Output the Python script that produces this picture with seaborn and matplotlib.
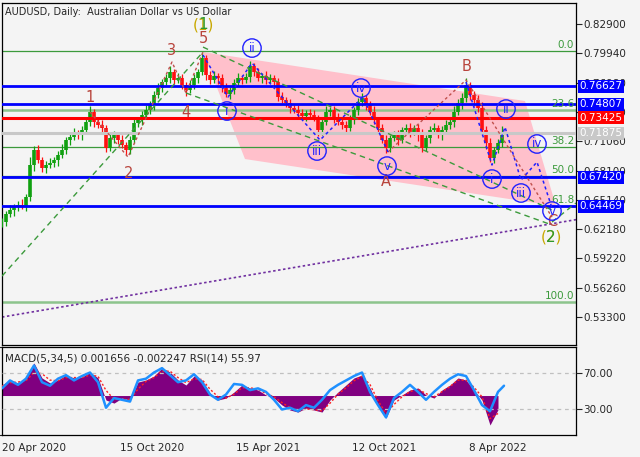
import numpy as np
import matplotlib
matplotlib.use("Agg")
import matplotlib.pyplot as plt
import matplotlib.transforms as mtransforms
from matplotlib.patches import Polygon
import seaborn as sns

sns.set_style("white")
plt.rcParams['font.family'] = ['DejaVu Sans']

# ---------------- data ----------------
TITLE = "AUDUSD, Daily:  Australian Dollar vs US Dollar"
IND_TITLE = "MACD(5,34,5) 0.001656 -0.002247 RSI(14) 55.97"

# closes every 4 daily bars (bar 0 = 20 Apr 2020)
close_prices = [
    0.6290, 0.6371, 0.6411, 0.6441, 0.6462, 0.6451, 0.6542, 0.6866, 0.7017, 0.6916,
    0.6835, 0.6866, 0.6886, 0.6916, 0.6967, 0.7017, 0.7118, 0.7148, 0.7189, 0.7169,
    0.7219, 0.7300, 0.7401, 0.7300, 0.7270, 0.7239, 0.7037, 0.7138, 0.7169, 0.7118,
    0.7068, 0.7017, 0.7118, 0.7290, 0.7320, 0.7371, 0.7421, 0.7482, 0.7573, 0.7643,
    0.7704, 0.7744, 0.7805, 0.7724, 0.7744, 0.7674, 0.7623, 0.7674, 0.7744, 0.7805,
    0.7946, 0.7775, 0.7724, 0.7764, 0.7744, 0.7643, 0.7583, 0.7623, 0.7694, 0.7744,
    0.7724, 0.7754, 0.7865, 0.7805, 0.7744, 0.7764, 0.7724, 0.7744, 0.7704, 0.7552,
    0.7522, 0.7492, 0.7441, 0.7421, 0.7391, 0.7360, 0.7391, 0.7371, 0.7340, 0.7219,
    0.7300, 0.7401, 0.7421, 0.7340, 0.7300, 0.7270, 0.7239, 0.7320, 0.7421, 0.7502,
    0.7542, 0.7472, 0.7401, 0.7320, 0.7239, 0.7118, 0.7037, 0.7138, 0.7169, 0.7118,
    0.7219, 0.7239, 0.7199, 0.7239, 0.7169, 0.7037, 0.7138, 0.7219, 0.7239, 0.7169,
    0.7219, 0.7270, 0.7300, 0.7401, 0.7492, 0.7542, 0.7674, 0.7573, 0.7522, 0.7441,
    0.7219, 0.7088, 0.6936, 0.7017, 0.7088, 0.7199]
# wick extents above / below each body (in 0.001 price units)
upper_wick = [4, 3, 5, 3, 4, 6, 3, 8, 4, 5, 3, 4, 5, 3, 4, 6, 3, 4, 5, 3,
              4, 5, 6, 3, 4, 5, 3, 6, 4, 3, 5, 3, 4, 6, 3, 4, 5, 3, 4, 5,
              3, 4, 6, 3, 5, 4, 3, 5, 4, 3, 6, 3, 4, 5, 3, 4, 5, 3, 4, 5,
              3, 4, 5, 3, 4, 3, 5, 4, 3, 4, 5, 3, 4, 3, 5, 4, 3, 4, 5, 3,
              4, 6, 3, 4, 5, 3, 4, 5, 3, 4, 5, 3, 4, 6, 3, 4, 5, 3, 4, 5,
              3, 4, 5, 3, 4, 6, 3, 4, 5, 3, 4, 5, 3, 6, 4, 5, 7, 3, 4, 5,
              6, 4, 5, 3, 4, 6]
lower_wick = [5, 4, 3, 6, 4, 3, 5, 4, 6, 3, 4, 5, 3, 4, 6, 3, 4, 5, 3, 4,
              5, 3, 4, 5, 3, 6, 4, 3, 5, 4, 3, 5, 4, 3, 4, 5, 3, 4, 6, 3,
              4, 3, 5, 4, 3, 4, 6, 3, 4, 5, 3, 5, 4, 3, 6, 4, 3, 5, 4, 3,
              4, 3, 5, 4, 3, 5, 4, 3, 6, 4, 3, 4, 5, 3, 4, 3, 5, 4, 3, 6,
              5, 3, 4, 5, 3, 4, 6, 3, 4, 5, 4, 5, 3, 4, 6, 3, 5, 4, 3, 5,
              3, 4, 5, 3, 6, 4, 3, 5, 4, 3, 5, 3, 4, 5, 3, 6, 4, 5, 6, 4,
              5, 6, 4, 5, 3, 4]
candle_step = 4

date_ticks = [0, 118, 234, 350, 467]
date_labels = ["20 Apr 2020", "15 Oct 2020", "15 Apr 2021", "12 Oct 2021", "8 Apr 2022"]

price_ticks = [0.82900, 0.79940, 0.76980, 0.74020, 0.71060, 0.68100,
               0.65140, 0.62180, 0.59220, 0.56260, 0.53300]

blue_levels = [0.76627, 0.74807, 0.67420, 0.64469]
red_levels = [0.73425]
gray_levels = [0.71875]

fib_high = 0.8017
fib_low = 0.5485
fib_ratios = [0.0, 23.6, 38.2, 50.0, 61.8, 100.0]

trend_bars = [0, 574]
trend_prices = [0.5330, 0.6314]

channel_bars = [201, 523, 554, 243]
channel_prices = [0.8007, 0.7512, 0.6451, 0.6926]

red_imp_bars = [88, 126, 170, 184, 201]
red_imp_prices = [0.7401, 0.6946, 0.7906, 0.7593, 0.8007]
red_abc_bars = [386, 464, 550]
red_abc_prices = [0.6997, 0.7724, 0.6340]
blue1_bars = [201, 226, 250, 318, 361, 386]
blue1_prices = [0.7977, 0.7552, 0.7896, 0.7118, 0.7552, 0.6997]
blue2_bars = [464, 490, 503, 519, 535, 550]
blue2_prices = [0.7704, 0.6866, 0.7249, 0.6714, 0.6896, 0.6431]
green_lines = [([0, 201], [0.5744, 0.8007]),
               ([201, 550], [0.8057, 0.6411]),
               ([184, 550], [0.7593, 0.6260]),
               ([550, 574], [0.6290, 0.6482])]

imp_labels = ["1", "2", "3", "4", "5"]
imp_bars = [88, 127, 170, 184, 201]
imp_prices = [0.7552, 0.6785, 0.8027, 0.7401, 0.8148]
abc_labels = ["A", "B", "C"]
abc_bars = [384, 465, 550]
abc_prices = [0.6704, 0.7865, 0.6300]
deg_labels = ["1", "2"]
deg_bars = [201, 549]
deg_prices = [0.8280, 0.6138]
circ_labels = ["i", "ii", "iii", "iv", "v", "i", "ii", "iii", "iv", "v"]
circ_bars = [225, 250, 315, 359, 385, 490, 504, 519, 535, 550]
circ_prices = [0.7411, 0.8047, 0.7007, 0.7643, 0.6855, 0.6724, 0.7431, 0.6583, 0.7078, 0.6401]

# indicator panel (every 8 bars)
macd_hist = [0.0082, 0.0121, 0.0098, 0.0137, 0.0254, 0.0137, 0.0098, 0.0121, 0.0160, 0.0137,
             0.0144, 0.0183, 0.0137, -0.0035, -0.0059, -0.0020, -0.0035, 0.0105, 0.0121, 0.0152,
             0.0215, 0.0183, 0.0121, 0.0082, 0.0152, 0.0121, 0.0020, -0.0035, -0.0020, 0.0027,
             0.0082, 0.0059, 0.0043, 0.0004, -0.0020, -0.0074, -0.0113, -0.0129, -0.0098, -0.0113,
             -0.0129, -0.0035, 0.0027, 0.0082, 0.0137, 0.0160, 0.0059, -0.0074, -0.0176, -0.0035,
             0.0004, 0.0043, 0.0059, 0.0004, -0.0020, 0.0043, 0.0082, 0.0137, 0.0121, 0.0043,
             -0.0035, -0.0230, -0.0110]
macd_signal = [0.0075, 0.0100, 0.0105, 0.0115, 0.0180, 0.0170, 0.0120, 0.0115, 0.0140, 0.0140,
               0.0140, 0.0160, 0.0150, 0.0040, -0.0030, -0.0030, -0.0030, 0.0050, 0.0110, 0.0140,
               0.0190, 0.0190, 0.0140, 0.0100, 0.0130, 0.0125, 0.0050, -0.0010, -0.0020, 0.0010,
               0.0060, 0.0060, 0.0050, 0.0015, -0.0010, -0.0055, -0.0095, -0.0120, -0.0105, -0.0110,
               -0.0120, -0.0060, 0.0010, 0.0060, 0.0115, 0.0150, 0.0085, -0.0040, -0.0140, -0.0070,
               -0.0010, 0.0030, 0.0050, 0.0015, -0.0010, 0.0030, 0.0070, 0.0120, 0.0120, 0.0065,
               -0.0010, -0.0180, -0.0140]
rsi_vals = [53, 62, 57, 64, 79, 60, 56, 64, 68, 62, 67, 71, 60, 31, 42, 40, 38, 62, 64, 71,
            76, 68, 60, 62, 69, 60, 46, 40, 46, 58, 57, 51, 53, 49, 40, 29, 31, 27, 34, 31,
            40, 51, 57, 62, 67, 71, 49, 34, 20, 42, 49, 57, 49, 40, 49, 57, 64, 69, 67, 51,
            34, 27, 49, 56]
ind_step = 8
rsi_last_bar = 502
macd_max = 0.037843
macd_min = -0.030780

# ---------------- figure ----------------
BG = '#f4f4f4'
W, H = 640, 457
fig = plt.figure(figsize=(6.4, 4.57), dpi=100, facecolor=BG)
ax = fig.add_axes([2 / W, 1 - 345 / H, 574 / W, 342 / H])
ax2 = fig.add_axes([2 / W, 1 - 435 / H, 574 / W, 88 / H])
for a in (ax, ax2):
    a.set_facecolor(BG)
    for s in a.spines.values():
        s.set_color('black')
        s.set_linewidth(0.9)

ax.set_xlim(0, 574)
ax.set_ylim(0.5048, 0.8502)
ax2.set_xlim(0, 574)

# channel
ax.add_patch(Polygon(list(zip(channel_bars, channel_prices)), closed=True,
                     facecolor='#ffc0cb', edgecolor='none', zorder=0.5))

# fib levels
fib_levels = [fib_high - r / 100.0 * (fib_high - fib_low) for r in fib_ratios]
for r, lv in zip(fib_ratios, fib_levels):
    lw = 1.8 if r in (23.6, 100.0) else 0.9
    col = '#8cc48c' if r in (23.6, 100.0) else '#3c9a3c'
    ax.axhline(lv, color=col, lw=lw, zorder=1)
    ax.text(572, lv + 0.0012, f"{r:.1f}", color='#3c9a3c', fontsize=7.5,
            ha='right', va='bottom', zorder=6)

# trend line
sns.lineplot(x=trend_bars, y=trend_prices, ax=ax, color='#7030a0', lw=1.2,
             linestyle=(0, (1.5, 1.5)), zorder=2)

# candles
bars = np.arange(len(close_prices)) * candle_step
closes = np.array(close_prices)
opens = np.concatenate([[closes[0]], closes[:-1]])
body_lo = np.minimum(opens, closes)
body_hi = np.maximum(opens, closes)
highs = body_hi + np.array(upper_wick) * 0.001
lows = body_lo - np.array(lower_wick) * 0.001
cols = np.where(closes >= opens, '#10a010', '#ff1010')
ax.vlines(bars, lows, highs, colors=cols, lw=0.9, zorder=3)
ax.vlines(bars, body_lo, body_hi, colors=cols, lw=2.6, zorder=3)

# horizontal levels
for lv in gray_levels:
    ax.axhline(lv, color='#c8c8c8', lw=2.2, zorder=4)
for lv in blue_levels:
    ax.axhline(lv, color='#0000ff', lw=2.0, zorder=4)
for lv in red_levels:
    ax.axhline(lv, color='#ff0000', lw=2.2, zorder=4)

# elliott wave lines
ax.plot(red_imp_bars, red_imp_prices, color='#c0504d', lw=1, ls=(0, (2, 2)), zorder=5)
ax.plot(red_abc_bars, red_abc_prices, color='#c0504d', lw=1, ls=(0, (2, 2)), zorder=5)
ax.plot(blue1_bars, blue1_prices, color='#2020ff', lw=1.1, ls=(0, (2, 2)), zorder=5)
ax.plot(blue2_bars, blue2_prices, color='#2020ff', lw=1.1, ls=(0, (2, 2)), zorder=5)
for bx, py in green_lines:
    ax.plot(bx, py, color='#3c9a3c', lw=1, ls=(0, (4, 3)), zorder=5)

WAVE_RED = '#b8443c'
for t, b, p in zip(imp_labels, imp_bars, imp_prices):
    ax.text(b, p, t, color=WAVE_RED, fontsize=10.5, ha='center', va='center', zorder=7)
for t, b, p in zip(abc_labels, abc_bars, abc_prices):
    ax.text(b, p, t, color=WAVE_RED, fontsize=10.5, ha='center', va='center', zorder=7)
for t, b, p in zip(deg_labels, deg_bars, deg_prices):
    ax.text(b, p, f"({t})", color='#c8a800', fontsize=11, ha='center', va='center', zorder=7)
    ax.text(b, p, t, color='#2e9a2e', fontsize=11, ha='center', va='center', zorder=8)
ax.scatter(circ_bars, circ_prices, s=175, facecolors='none', edgecolors='#2020ff',
           linewidths=1.0, zorder=7)
for t, b, p in zip(circ_labels, circ_bars, circ_prices):
    ax.text(b, p, t, color='#2020ff', fontsize=8.5, ha='center', va='center', zorder=8)

ax.text(0.006, 0.988, TITLE, transform=ax.transAxes, fontsize=7, va='top', ha='left')

# axes ticks
ax.set_xticks([])
ax.yaxis.tick_right()
ax.set_yticks(price_ticks)
ax.set_yticklabels([f"{v:.5f}" for v in price_ticks])
ax.tick_params(axis='y', direction='out', length=4, width=0.8, labelsize=7.5, pad=1)

trans = mtransforms.blended_transform_factory(ax.transAxes, ax.transData)
for lv, fc in ([(v, '#0000ff') for v in blue_levels] + [(v, '#ff0000') for v in red_levels]
               + [(v, '#c8c8c8') for v in gray_levels]):
    ax.text(1.006, lv, f"{lv:.5f}", transform=trans, color='white', fontsize=7.5,
            ha='left', va='center', clip_on=False, zorder=10,
            bbox=dict(boxstyle='square,pad=0.15', facecolor=fc, edgecolor='none'))

# ---------------- indicator panel ----------------
hb = np.arange(len(macd_hist)) * ind_step
ax2.set_ylim(macd_min, macd_max)
ax2.fill_between(hb, 0, macd_hist, color='#800080', lw=0, zorder=2)
ax2.plot(hb, macd_signal, color='#ff2020', lw=1, ls=(0, (1.5, 1.5)), zorder=3)
ax2.yaxis.tick_right()
ax2.set_yticks([macd_max, macd_min])
ax2.set_yticklabels([f"{macd_max:.6f}", f"{macd_min:.6f}"])
ax2.tick_params(axis='y', direction='out', length=4, width=0.8, labelsize=7.5, pad=1)
lbls = ax2.get_yticklabels()
lbls[0].set_va('top')
lbls[1].set_va('bottom')

ax3 = ax2.twinx()
ax3.set_ylim(0, 100)
ax3.set_xlim(0, 574)
rb = list(np.arange(len(rsi_vals) - 1) * ind_step) + [rsi_last_bar]
sns.lineplot(x=rb, y=rsi_vals, ax=ax3, color='#1e90ff', lw=1.8, zorder=4)
ax3.axhline(70, color='#c0c0c0', lw=0.9, ls=(0, (3, 3)), zorder=1)
ax3.axhline(30, color='#c0c0c0', lw=0.9, ls=(0, (3, 3)), zorder=1)
ax3.set_yticks([70, 30])
ax3.set_yticklabels(["70.00", "30.00"])
ax3.tick_params(axis='y', direction='out', length=4, width=0.8, labelsize=7.5, pad=1)
ax3.set_ylabel("")
for s in ax3.spines.values():
    s.set_visible(False)

ax2.set_xticks(date_ticks)
ax2.set_xticklabels(date_labels, ha='left')
ax2.tick_params(axis='x', direction='out', length=4, width=0.8, labelsize=7.5, pad=2)
ax2.text(0.006, 0.93, IND_TITLE, transform=ax2.transAxes, fontsize=7.5, va='top',
         ha='left', zorder=6)

fig.savefig("out.png", dpi=100, facecolor=BG)
